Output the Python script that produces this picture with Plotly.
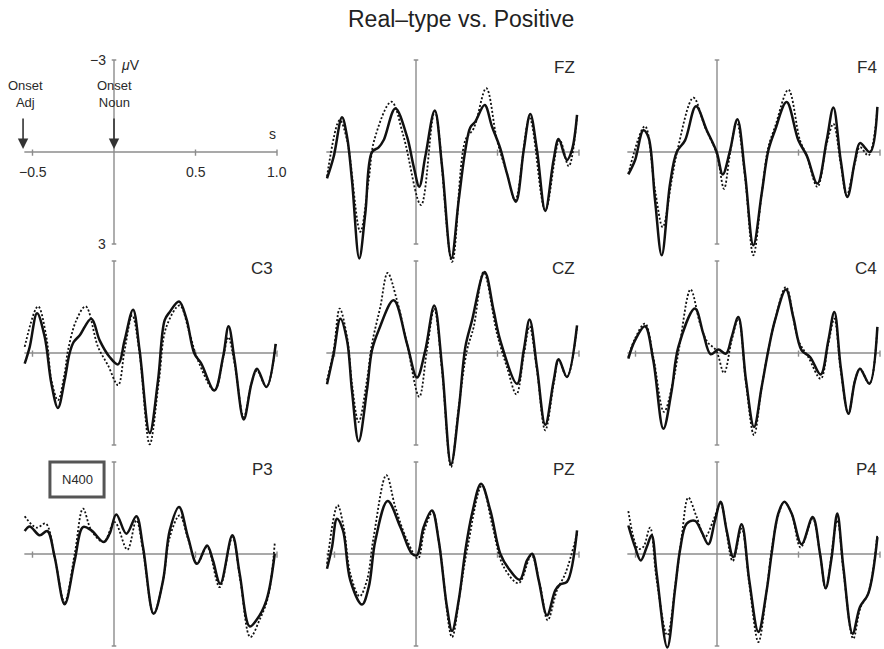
import plotly.graph_objects as go

# ---------------------------------------------------------------------------
# Grand-average ERP waveforms (time in s relative to noun onset, amplitude in µV,
# negative plotted upward).  Solid = Real-type, dotted = Positive.
# ---------------------------------------------------------------------------

FZ_T_SOLID = [-0.546, -0.505, -0.454, -0.423, -0.393, -0.348, -0.311, -0.270, -0.229, -0.198,
              -0.127, -0.055, -0.014, 0.020, 0.057, 0.115, 0.160, 0.217, 0.262, 0.303,
              0.333, 0.364, 0.421, 0.466, 0.517, 0.558, 0.613, 0.661, 0.701, 0.742,
              0.793, 0.844, 0.875, 0.926, 0.957, 0.988]
FZ_V_SOLID = [0.86, 0.15, -1.13, -0.50, 0.91, 3.47, 2.00, 0.00, -0.15, -0.39,
              -1.42, -0.50, 0.48, 1.13, 0.15, -1.35, 0.48, 3.47, 1.57, -0.07,
              -0.80, -0.99, -1.53, -0.83, -0.12, 0.70, 1.62, -0.07, -1.24, -0.07,
              1.92, 0.26, -0.42, 0.26, -0.07, -1.21]
FZ_T_DOT = [-0.546, -0.468, -0.423, -0.342, -0.290, -0.256, -0.151, -0.076, 0.031, 0.115,
            0.221, 0.303, 0.354, 0.431, 0.497, 0.558, 0.609, 0.697, 0.793, 0.881,
            0.937, 0.988]
FZ_V_DOT = [0.80, -1.04, -0.39, 2.60, 0.91, -0.39, -1.64, -0.50, 1.73, -1.32,
            3.58, -0.39, -0.77, -2.08, -0.39, 0.70, 1.57, -1.10, 1.89, -0.39,
            0.46, -1.15]

F4_T_SOLID = [-0.544, -0.503, -0.452, -0.421, -0.380, -0.339, -0.288, -0.247, -0.196, -0.129,
              -0.063, -0.002, 0.035, 0.080, 0.125, 0.172, 0.223, 0.274, 0.315, 0.356,
              0.427, 0.499, 0.550, 0.616, 0.673, 0.714, 0.759, 0.800, 0.847, 0.877,
              0.939, 0.984]
F4_V_SOLID = [0.73, 0.27, -0.71, -0.49, 1.58, 3.37, 1.03, 0.00, -0.38, -1.49,
              -0.71, 0.00, 0.73, -0.05, -1.07, 0.71, 3.04, 1.36, -0.05, -0.71,
              -1.63, -0.38, 0.11, 1.03, -0.38, -1.45, 0.27, 1.47, 0.27, -0.29,
              0.00, -1.47]
F4_T_DOT = [-0.544, -0.442, -0.380, -0.333, -0.278, -0.243, -0.145, -0.074, -0.002, 0.043,
            0.080, 0.121, 0.172, 0.223, 0.274, 0.315, 0.356, 0.438, 0.509, 0.550,
            0.616, 0.673, 0.714, 0.759, 0.796, 0.847, 0.877, 0.929, 0.984]
F4_V_DOT = [0.71, -0.84, 1.25, 2.45, 0.92, -0.05, -1.77, -0.82, 0.05, 1.20,
            0.05, -0.98, 0.82, 3.37, 1.36, -0.16, -0.82, -2.03, -0.38, 0.11,
            1.14, -0.27, -0.92, 0.38, 1.41, 0.33, -0.16, 0.11, -1.41]

C3_T_SOLID = [-0.548, -0.517, -0.472, -0.425, -0.384, -0.344, -0.303, -0.272, -0.247, -0.210,
              -0.139, -0.088, -0.027, 0.025, 0.065, 0.117, 0.157, 0.219, 0.270, 0.311,
              0.342, 0.399, 0.444, 0.493, 0.534, 0.616, 0.669, 0.703, 0.740, 0.796,
              0.843, 0.877, 0.935, 0.992]
C3_V_SOLID = [0.35, -0.20, -1.30, -0.52, 1.00, 1.79, 0.89, 0.00, -0.36, -0.58,
              -1.12, -0.41, 0.13, 0.37, -0.41, -1.41, -0.09, 2.61, 0.89, -1.07,
              -1.34, -1.68, -1.12, 0.02, 0.33, 1.22, 0.13, -0.87, 0.24, 2.17,
              1.00, 0.51, 1.11, -0.30]
C3_T_DOT = [-0.548, -0.466, -0.415, -0.384, -0.344, -0.303, -0.282, -0.231, -0.174, -0.098,
            -0.037, 0.025, 0.065, 0.112, 0.157, 0.219, 0.276, 0.321, 0.403, 0.464,
            0.515, 0.616, 0.669, 0.701, 0.740, 0.796, 0.843, 0.877, 0.935, 0.992]
C3_V_DOT = [-0.20, -1.52, -0.52, 0.89, 1.54, 0.67, -0.09, -1.07, -1.52, -0.20,
            0.40, 1.05, -0.09, -1.23, 0.02, 2.98, 0.89, -0.85, -1.55, -0.63,
            0.24, 1.22, 0.18, -0.52, 0.35, 2.09, 1.00, 0.57, 1.11, -0.30]

CZ_T_SOLID = [-0.546, -0.505, -0.464, -0.423, -0.393, -0.352, -0.301, -0.270, -0.229, -0.137,
              -0.055, 0.006, 0.057, 0.112, 0.160, 0.215, 0.262, 0.303, 0.344, 0.421,
              0.476, 0.517, 0.620, 0.661, 0.697, 0.742, 0.793, 0.845, 0.875, 0.926,
              0.988]
CZ_V_SOLID = [1.02, 0.02, -1.12, -0.41, 1.22, 2.88, 1.22, -0.09, -0.74, -1.72,
              -0.30, 0.80, -0.09, -1.55, 0.46, 3.63, 1.87, -0.20, -1.07, -2.64,
              -1.39, -0.41, 1.00, -0.09, -1.09, 0.46, 2.34, 0.89, 0.20, 0.78,
              -0.90]
CZ_T_DOT = [-0.546, -0.505, -0.468, -0.423, -0.393, -0.352, -0.301, -0.270, -0.219, -0.174,
            -0.117, -0.055, 0.020, 0.067, 0.112, 0.160, 0.215, 0.262, 0.313, 0.354,
            0.415, 0.497, 0.558, 0.616, 0.661, 0.697, 0.742, 0.793, 0.845, 0.875,
            0.926, 0.988]
CZ_V_DOT = [0.89, -0.09, -1.45, -0.52, 1.00, 2.25, 0.89, -0.30, -1.50, -2.61,
            -1.72, -0.30, 1.43, -0.09, -1.45, 0.59, 3.72, 1.76, -0.09, -0.85,
            -2.64, -0.63, 0.46, 1.35, 0.08, -0.87, 0.57, 2.52, 1.00, 0.24,
            0.78, -0.85]

C4_T_SOLID = [-0.544, -0.503, -0.442, -0.391, -0.329, -0.278, -0.237, -0.135, -0.084, -0.039,
              0.008, 0.055, 0.090, 0.131, 0.178, 0.227, 0.274, 0.315, 0.356, 0.423,
              0.468, 0.519, 0.571, 0.636, 0.683, 0.720, 0.759, 0.806, 0.847, 0.877,
              0.935, 0.984]
C4_V_SOLID = [0.18, -0.41, -0.87, 0.24, 2.47, 1.22, -0.20, -1.45, -0.63, 0.04,
              -0.11, 0.02, -0.52, -1.17, 0.89, 2.41, 1.11, -0.09, -1.07, -2.07,
              -1.17, -0.09, 0.13, 0.70, -0.41, -1.34, 0.46, 1.98, 0.89, 0.51,
              1.00, -0.85]
C4_T_DOT = [-0.544, -0.503, -0.442, -0.391, -0.325, -0.268, -0.231, -0.162, -0.104, -0.059,
            -0.006, 0.043, 0.090, 0.131, 0.178, 0.227, 0.274, 0.315, 0.356, 0.423,
            0.499, 0.560, 0.636, 0.683, 0.720, 0.759, 0.806, 0.847, 0.877, 0.935,
            0.984]
C4_V_DOT = [0.13, -0.47, -0.96, 0.13, 1.92, 0.89, -0.20, -2.07, -0.96, -0.36,
            -0.09, 0.65, -0.41, -1.12, 1.00, 2.68, 1.11, -0.09, -1.07, -2.15,
            -0.41, 0.13, 0.84, -0.30, -1.12, 0.57, 1.98, 0.89, 0.51, 1.00,
            -0.85]

P3_T_SOLID = [-0.548, -0.517, -0.456, -0.409, -0.364, -0.303, -0.241, -0.190, -0.139, -0.063,
              -0.027, 0.014, 0.076, 0.137, 0.178, 0.243, 0.301, 0.342, 0.399, 0.454,
              0.509, 0.571, 0.607, 0.652, 0.726, 0.771, 0.832, 0.873, 0.935, 0.986]
P3_V_SOLID = [-0.75, -0.90, -0.61, -0.75, 0.10, 1.64, 0.21, -0.88, -0.77, -0.39,
              -0.66, -1.29, -0.66, -1.23, -0.23, 1.95, 0.86, -0.77, -1.53, -0.55,
              0.32, -0.28, 0.21, 0.97, -0.61, 0.64, 2.36, 2.16, 1.51, 0.00]
P3_T_DOT = [-0.548, -0.476, -0.419, -0.364, -0.303, -0.241, -0.190, -0.139, -0.063, 0.004,
            0.082, 0.137, 0.178, 0.243, 0.301, 0.342, 0.403, 0.454, 0.509, 0.571,
            0.648, 0.726, 0.775, 0.836, 0.892, 0.945, 0.986]
P3_V_DOT = [-1.23, -0.86, -0.99, 0.10, 1.57, -0.01, -1.48, -0.77, -0.39, -1.04,
            -0.14, -1.10, -0.12, 1.95, 0.86, -0.55, -1.26, -0.50, 0.32, -0.23,
            1.08, -0.55, 0.86, 2.71, 2.16, 1.40, -0.34]

PZ_T_SOLID = [-0.546, -0.515, -0.485, -0.448, -0.403, -0.331, -0.290, -0.249, -0.174, -0.096,
              -0.025, 0.006, 0.047, 0.098, 0.139, 0.190, 0.221, 0.262, 0.303, 0.344,
              0.399, 0.456, 0.517, 0.569, 0.636, 0.681, 0.712, 0.753, 0.804, 0.855,
              0.885, 0.926, 0.988]
PZ_V_SOLID = [0.48, -0.23, -1.15, -0.77, 0.86, 1.65, 1.08, -0.45, -1.73, -0.88,
              -0.01, 0.04, -0.88, -1.42, -0.45, 1.73, 2.51, 1.51, -0.12, -1.32,
              -2.29, -1.42, -0.01, 0.48, 0.84, 0.21, -0.01, 0.86, 2.00, 1.18,
              0.99, 0.91, -0.77]
PZ_T_DOT = [-0.546, -0.481, -0.444, -0.403, -0.346, -0.301, -0.260, -0.182, -0.127, -0.055,
            0.012, 0.051, 0.102, 0.145, 0.221, 0.272, 0.313, 0.405, 0.466, 0.538,
            0.630, 0.708, 0.763, 0.808, 0.865, 0.916, 0.988]
PZ_V_DOT = [0.32, -1.59, -0.88, 0.64, 1.38, 0.86, -0.55, -2.57, -1.53, -0.45,
            0.15, -0.77, -1.37, -0.23, 2.71, 1.18, -0.12, -2.24, -0.99, 0.42,
            0.95, 0.04, 1.08, 2.16, 1.18, 0.64, -0.66]

P4_T_SOLID = [-0.544, -0.503, -0.468, -0.431, -0.401, -0.370, -0.305, -0.258, -0.227, -0.186,
              -0.135, -0.094, -0.053, -0.012, 0.022, 0.059, 0.100, 0.151, 0.198, 0.254,
              0.305, 0.335, 0.376, 0.413, 0.458, 0.519, 0.587, 0.632, 0.667, 0.703,
              0.738, 0.775, 0.832, 0.877, 0.928, 0.984]
P4_V_SOLID = [-0.93, -0.23, 0.21, -0.23, -0.61, 0.64, 3.05, 1.18, -0.12, -0.99,
              -1.08, -0.72, -0.32, -1.10, -1.70, -0.77, 0.10, -0.97, 0.86, 2.54,
              1.18, -0.01, -1.32, -1.70, -1.32, -0.32, -1.21, -0.01, 1.11, 0.12,
              -1.32, 0.42, 2.60, 1.73, 1.29, -0.55]
P4_T_DOT = [-0.544, -0.483, -0.452, -0.411, -0.370, -0.305, -0.252, -0.217, -0.176, -0.125,
            -0.074, -0.022, 0.022, 0.096, 0.151, 0.198, 0.254, 0.305, 0.335, 0.376,
            0.413, 0.458, 0.513, 0.587, 0.632, 0.667, 0.738, 0.775, 0.836, 0.881,
            0.928, 0.984]
P4_V_DOT = [-1.40, -0.17, -0.23, -0.86, 0.86, 2.65, 0.86, -0.55, -1.84, -1.21,
            -0.55, -1.10, -1.64, 0.23, -0.83, 0.97, 2.87, 1.18, -0.12, -1.26,
            -1.70, -1.32, -0.21, -1.15, -0.01, 1.13, -1.10, 0.53, 2.76, 1.73,
            1.29, -0.66]

# Panel order (row by row); the first cell holds only the scale/legend axes.
ELECTRODES = [None, "FZ", "F4", "C3", "CZ", "C4", "P3", "PZ", "P4"]
SERIES = {
    "FZ": (FZ_T_SOLID, FZ_V_SOLID, FZ_T_DOT, FZ_V_DOT),
    "F4": (F4_T_SOLID, F4_V_SOLID, F4_T_DOT, F4_V_DOT),
    "C3": (C3_T_SOLID, C3_V_SOLID, C3_T_DOT, C3_V_DOT),
    "CZ": (CZ_T_SOLID, CZ_V_SOLID, CZ_T_DOT, CZ_V_DOT),
    "C4": (C4_T_SOLID, C4_V_SOLID, C4_T_DOT, C4_V_DOT),
    "P3": (P3_T_SOLID, P3_V_SOLID, P3_T_DOT, P3_V_DOT),
    "PZ": (PZ_T_SOLID, PZ_V_SOLID, PZ_T_DOT, PZ_V_DOT),
    "P4": (P4_T_SOLID, P4_V_SOLID, P4_T_DOT, P4_V_DOT),
}

X_TICKS = [-0.5, 0.5, 1.0]
X_TICK_LABELS = ["\u22120.5", "0.5", "1.0"]
Y_LIMIT = 3  # µV, ends of the amplitude axis

# ---------------------------------------------------------------------------
# Page geometry
# ---------------------------------------------------------------------------
W, H = 884, 649
PX_PER_S = 163.0
PX_PER_UV = 30.67
COL_ZERO_X = [114, 416, 717]
ROW_ZERO_Y = [152, 353, 554]
T_START, T_END = -0.55, 1.0

AXIS_COLOR = "#8c8c8c"
TEXT_COLOR = "#2a2a2a"
FONT = "Liberation Sans, Arial, Helvetica, sans-serif"

fig = go.Figure()
layout = dict(
    width=W, height=H, autosize=False,
    margin=dict(l=0, r=0, t=0, b=0),
    paper_bgcolor="white", plot_bgcolor="rgba(0,0,0,0)",
    showlegend=False,
    font=dict(family=FONT, color=TEXT_COLOR),
)
shapes = []
annotations = []


def ref(k):
    return ("x", "y") if k == 1 else (f"x{k}", f"y{k}")


for idx, name in enumerate(ELECTRODES):
    k = idx + 1
    row, col = divmod(idx, 3)
    zx, zy = COL_ZERO_X[col], ROW_ZERO_Y[row]
    left = max(0.0, zx - 0.62 * PX_PER_S)
    right = min(W, zx + 1.06 * PX_PER_S)
    top = max(0.0, zy - 4.4 * PX_PER_UV)
    bottom = min(H, zy + 4.4 * PX_PER_UV)
    xr, yr = ref(k)
    xkey = "xaxis" if k == 1 else f"xaxis{k}"
    ykey = "yaxis" if k == 1 else f"yaxis{k}"
    layout[xkey] = dict(domain=[left / W, right / W],
                        range=[(left - zx) / PX_PER_S, (right - zx) / PX_PER_S],
                        visible=False, fixedrange=True, anchor=yr)
    # negative amplitudes point upward
    layout[ykey] = dict(domain=[1 - bottom / H, 1 - top / H],
                        range=[(bottom - zy) / PX_PER_UV, (top - zy) / PX_PER_UV],
                        visible=False, fixedrange=True, anchor=xr)

    line = dict(color=AXIS_COLOR, width=1.4)
    # time axis
    shapes.append(dict(type="line", xref=xr, yref=yr, x0=T_START, x1=T_END, y0=0, y1=0,
                       line=line, layer="below"))
    for t in X_TICKS:
        shapes.append(dict(type="line", xref=xr, yref=yr, x0=t, x1=t, y0=-0.08, y1=0.12,
                           line=line, layer="below"))
    # amplitude axis with end ticks
    shapes.append(dict(type="line", xref=xr, yref=yr, x0=0, x1=0, y0=-Y_LIMIT, y1=Y_LIMIT,
                       line=line, layer="below"))
    for v in (-Y_LIMIT, Y_LIMIT):
        shapes.append(dict(type="line", xref=xr, yref=yr, x0=-0.014, x1=0.014, y0=v, y1=v,
                           line=line, layer="below"))

    if name is None:
        continue

    ts, vs, td, vd = SERIES[name]
    fig.add_trace(go.Scatter(x=td, y=vd, mode="lines", name="Positive",
                             line=dict(color="#111111", width=1.8, dash="2px,2px",
                                       shape="spline", smoothing=1.0),
                             xaxis=xr, yaxis=yr, hoverinfo="skip"))
    fig.add_trace(go.Scatter(x=ts, y=vs, mode="lines", name="Real-type",
                             line=dict(color="#111111", width=2.5,
                                       shape="spline", smoothing=1.0),
                             xaxis=xr, yaxis=yr, hoverinfo="skip"))
    annotations.append(dict(xref=xr, yref=yr, x=0.99 if col < 2 else 0.995, y=-2.77,
                            text=name, showarrow=False, xanchor="right", yanchor="middle",
                            font=dict(size=17, family=FONT, color=TEXT_COLOR)))

# Scale panel labels
small = dict(size=14, family=FONT, color=TEXT_COLOR)
onset = dict(size=13, family=FONT, color=TEXT_COLOR)
for t, lab in zip(X_TICKS, X_TICK_LABELS):
    annotations.append(dict(xref="x", yref="y", x=t, y=0.34, text=lab, showarrow=False,
                            xanchor="center", yanchor="top", font=small))
annotations += [
    dict(xref="x", yref="y", x=-0.035, y=-Y_LIMIT, text="\u22123", showarrow=False,
         xanchor="right", yanchor="middle", font=small),
    dict(xref="x", yref="y", x=-0.035, y=Y_LIMIT, text="3", showarrow=False,
         xanchor="right", yanchor="middle", font=small),
    dict(xref="x", yref="y", x=0.03, y=-2.85, text="<i>\u03bc</i>V", showarrow=False,
         xanchor="left", yanchor="middle", font=small),
    dict(xref="x", yref="y", x=0.975, y=-0.25, text="s", showarrow=False,
         xanchor="center", yanchor="bottom", font=small),
    dict(xref="x", yref="y", x=-0.54, y=-1.88, text="Onset<br>Adj", showarrow=False,
         xanchor="center", yanchor="middle", font=onset),
    dict(xref="x", yref="y", x=0.005, y=-1.88, text="Onset<br>Noun", showarrow=False,
         xanchor="center", yanchor="middle", font=onset),
    # onset arrows
    dict(xref="x", yref="y", x=-0.558, y=-0.1, ax=0, ay=-32, text="", showarrow=True,
         arrowhead=2, arrowsize=1.3, arrowwidth=1.6, arrowcolor="#333333"),
    dict(xref="x", yref="y", x=0.0, y=-0.1, ax=0, ay=-32, text="", showarrow=True,
         arrowhead=2, arrowsize=1.3, arrowwidth=1.6, arrowcolor="#333333"),
    # N400 tag in the P3 panel
    dict(xref="x7", yref="y7", x=-0.227, y=-2.43, text="N400", showarrow=False,
         xanchor="center", yanchor="middle", font=dict(size=13, family=FONT, color=TEXT_COLOR)),
    # title
    dict(xref="paper", yref="paper", x=461 / W, y=1 - 19 / H, text="Real\u2013type vs. Positive",
         showarrow=False, xanchor="center", yanchor="middle",
         font=dict(size=23, family=FONT, color="#222222")),
]
shapes.append(dict(type="rect", xref="x7", yref="y7", x0=-0.393, x1=-0.061, y0=-3.0, y1=-1.86,
                   line=dict(color="#555555", width=3), fillcolor="rgba(0,0,0,0)"))

layout["shapes"] = shapes
layout["annotations"] = annotations
fig.update_layout(**layout)
fig.write_html("out.html")
